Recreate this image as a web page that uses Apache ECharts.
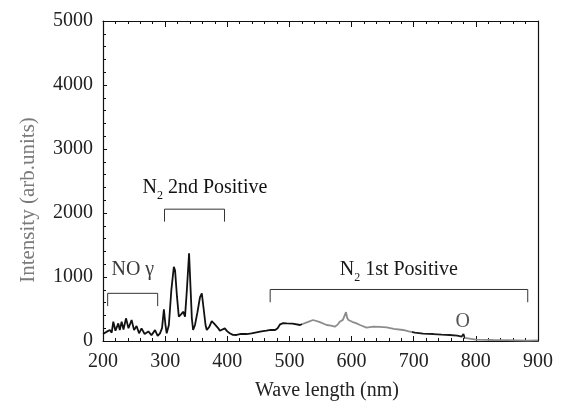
<!DOCTYPE html>
<html>
<head>
<meta charset="utf-8">
<script src="https://cdn.jsdelivr.net/npm/echarts@6/dist/echarts.min.js"></script>
<style>
  html, body { margin: 0; padding: 0; background: #fff; }
  #chart { width: 563px; height: 407px; }
</style>
</head>
<body>
<div id="chart"></div>
<script>
// spectrum
var waveNm = [200, 203, 207, 211, 214, 216.6, 220, 224.6, 227, 230, 233, 237, 241, 246, 250, 254, 258, 262, 267, 273, 278, 283.7, 288, 291.7,
  295, 298, 300.5, 302.5, 306, 310, 314, 316, 319, 322, 326, 329, 332, 335, 338.5, 341, 343, 345, 348, 352, 356, 359, 362, 365, 367,
  371, 375, 377.5, 380, 385.6, 388, 391, 396, 400, 404, 407, 409, 415, 422, 431, 439, 447, 455, 463, 470, 477, 481, 485, 490, 495.6,
  505, 517, 528, 538, 548, 560, 567, 573, 578, 581, 586, 589, 591, 593, 595, 601, 608, 613.6, 624, 635, 645, 656.5, 668, 683, 692,
  702, 715, 731.6, 745, 758, 770, 777, 780, 782, 785, 800, 828, 850, 882, 900]
var intensity = [110, 94, 150, 172, 130, 302, 160, 276, 170, 302, 180, 354, 200, 328, 170, 234, 120, 198, 110, 150, 90, 170, 80, 120,
  200, 495, 250, 120, 250, 800, 1160, 1100, 700, 380, 420, 458, 380, 800, 1370, 800, 350, 172, 250, 450, 680, 745, 500, 250, 172,
  220, 310, 328, 260, 198, 160, 172, 198, 150, 120, 130, 95, 94, 110, 109, 120, 135, 150, 161, 175, 172, 200, 260, 280, 276,
  270, 250, 290, 328, 300, 250, 240, 224, 260, 302, 330, 355, 450, 360, 328, 300, 276, 250, 210, 224, 220, 214, 190, 172, 150,
  130, 115, 109, 100, 94, 85, 68, 109, 50, 26, 20, 16, 15, 5, 10]

// brackets: [xStart, xEnd, yTop, yLeg]
var brackets = [
  [207.5, 288, 745, 545],
  [299, 395.5, 2060, 1865],
  [469, 883.5, 805, 605]
]
// labels: [x, y, text]
var notes = [
  [248, 1120, 'NO γ'],
  [364, 2400, 'N{sub|2} 2nd Positive'],
  [676, 1110, 'N{sub|2} 1st Positive'],
  [779, 300, 'O']
]
var noteColors = ['#3a3a3a', '#111', '#1a1a1a', '#555']

var font = 'Liberation Serif'
var chart = echarts.init(document.getElementById('chart'))

var spectrum = waveNm.map(function (x, i) { return [x, intensity[i]] })

var series = [{
  type: 'line',
  data: spectrum,
  showSymbol: false,
  lineStyle: { width: 1.8 },
  z: 3
}]
brackets.forEach(function (b) {
  series.push({
    type: 'line',
    data: [[b[0], b[3]], [b[0], b[2]], [b[1], b[2]], [b[1], b[3]]],
    showSymbol: false,
    lineStyle: { color: '#333', width: 1 },
    itemStyle: { color: '#333' },
    z: 2
  })
})
notes.forEach(function (n, i) {
  series.push({
    type: 'scatter',
    symbolSize: 0,
    itemStyle: { color: noteColors[i], opacity: 1 },
    data: [[n[0], n[1]]],
    label: {
      show: true,
      position: [0, 0],
      align: 'center',
      verticalAlign: 'middle',
      color: noteColors[i],
      opacity: 1,
      fontFamily: font,
      fontSize: 20,
      formatter: n[2],
      rich: { sub: { color: noteColors[i], fontFamily: font, fontSize: 12, padding: [16, 0, 0, 0] } }
    },
    z: 4
  })
})

var tickStyle = { color: '#111' }
chart.setOption({
  animation: false,
  grid: { left: 103, right: 25, top: 21, bottom: 66 },
  visualMap: {
    show: false,
    type: 'piecewise',
    dimension: 0,
    seriesIndex: 0,
    pieces: [
      { lt: 520, color: '#111' },
      { gte: 520, lt: 698, color: '#8c8c8c' },
      { gte: 698, lt: 782, color: '#1a1a1a' },
      { gte: 782, color: '#8c8c8c' }
    ]
  },
  xAxis: [{
    type: 'value',
    min: 200, max: 900, interval: 100,
    name: 'Wave length (nm)',
    nameLocation: 'middle',
    nameGap: 40,
    nameTextStyle: { fontFamily: font, fontSize: 20, color: '#222', padding: [0, 0, 0, 13] },
    axisLine: { show: true, onZero: false, lineStyle: { color: '#111', width: 1.2 } },
    axisTick: { show: true, inside: true, length: 5, lineStyle: tickStyle },
    minorTick: { show: true, splitNumber: 5, length: 3, lineStyle: tickStyle },
    axisLabel: { fontFamily: font, fontSize: 20, color: '#222', margin: 11 },
    splitLine: { show: false }
  }, {
    type: 'value',
    position: 'top',
    min: 200, max: 900, interval: 100,
    axisLine: { show: true, onZero: false, lineStyle: { color: '#111', width: 1.2 } },
    axisTick: { show: true, inside: true, length: 6, lineStyle: tickStyle },
    minorTick: { show: true, splitNumber: 5, length: 3, lineStyle: tickStyle },
    axisLabel: { show: false },
    splitLine: { show: false }
  }],
  yAxis: [{
    type: 'value',
    min: 0, max: 5000, interval: 1000,
    name: 'Intensity (arb.units)',
    nameLocation: 'middle',
    nameGap: 64,
    nameTextStyle: { fontFamily: font, fontSize: 21, color: '#7a7a7a', padding: [0, 38, 0, 0] },
    axisLine: { show: true, onZero: false, lineStyle: { color: '#111', width: 1.2 } },
    axisTick: { show: true, inside: true, length: 4, lineStyle: tickStyle },
    minorTick: { show: true, splitNumber: 5, length: 3, lineStyle: tickStyle },
    axisLabel: { fontFamily: font, fontSize: 20, color: '#222', margin: 10, formatter: function (v) { return String(v) } },
    splitLine: { show: false }
  }, {
    type: 'value',
    position: 'right',
    min: 0, max: 5000, interval: 1000,
    axisLine: { show: true, onZero: false, lineStyle: { color: '#111', width: 1.2 } },
    axisTick: { show: false },
    axisLabel: { show: false },
    splitLine: { show: false }
  }],
  series: series
})
</script>
</body>
</html>
